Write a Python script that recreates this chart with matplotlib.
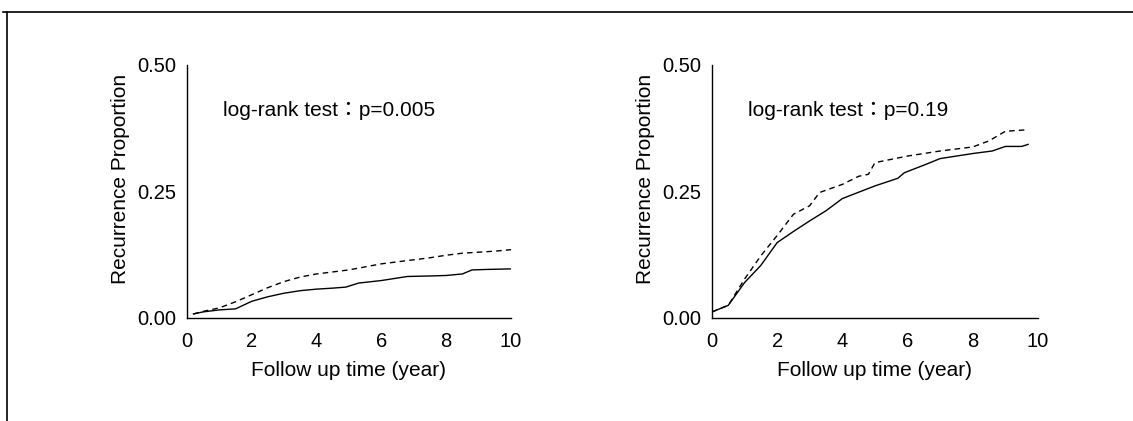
import matplotlib
matplotlib.use("Agg")
import matplotlib.pyplot as plt
from matplotlib.lines import Line2D

plt.rcParams['font.family'] = ['Liberation Sans', 'Noto Sans CJK KR', 'DejaVu Sans']

# Left panel data
left_dash_x = [0.2, 0.5, 1.0, 1.5, 2.0, 2.5, 3.0, 3.5, 4.0, 4.5, 5.0, 5.5, 6.0, 6.5, 7.0, 7.5, 8.0, 8.5, 9.0, 9.5, 10.0]
left_dash_y = [0.008, 0.013, 0.020, 0.032, 0.046, 0.060, 0.072, 0.081, 0.087, 0.091, 0.095, 0.101, 0.107, 0.111, 0.115, 0.119, 0.124, 0.128, 0.130, 0.132, 0.135]
left_solid_x = [0.2, 0.5, 1.0, 1.5, 1.8, 2.0, 2.5, 3.0, 3.5, 4.0, 4.5, 4.9, 5.3, 6.0, 6.8, 7.5, 8.0, 8.5, 8.8, 9.3, 10.0]
left_solid_y = [0.008, 0.012, 0.016, 0.018, 0.027, 0.033, 0.042, 0.049, 0.054, 0.057, 0.059, 0.061, 0.069, 0.074, 0.082, 0.083, 0.084, 0.087, 0.095, 0.096, 0.097]

# Right panel data
right_dash_x = [0.0, 0.5, 1.0, 1.5, 2.0, 2.5, 3.0, 3.3, 4.0, 4.5, 4.8, 5.0, 6.0, 7.0, 8.0, 8.5, 9.0, 9.7]
right_dash_y = [0.012, 0.025, 0.077, 0.123, 0.163, 0.205, 0.222, 0.248, 0.264, 0.280, 0.284, 0.307, 0.320, 0.330, 0.338, 0.350, 0.369, 0.372]
right_solid_x = [0.0, 0.5, 1.0, 1.5, 2.0, 2.5, 3.0, 3.5, 4.0, 5.0, 5.7, 5.9, 6.5, 7.0, 8.0, 8.6, 9.0, 9.5, 9.7]
right_solid_y = [0.012, 0.025, 0.070, 0.104, 0.149, 0.171, 0.192, 0.212, 0.236, 0.261, 0.276, 0.287, 0.302, 0.315, 0.325, 0.330, 0.339, 0.339, 0.343]

x_ticks = [0, 2, 4, 6, 8, 10]
y_ticks = [0.00, 0.25, 0.50]
y_tick_labels = ["0.00", "0.25", "0.50"]
panel_texts = ["log-rank test\uff1ap=0.005", "log-rank test\uff1ap=0.19"]
xlabel = "Follow up time (year)"
ylabel = "Recurrence Proportion"

fig = plt.figure(figsize=(11.33, 4.21), dpi=100)

# scanned frame lines
fig.add_artist(Line2D([0.003, 1.0], [0.9715, 0.9715], transform=fig.transFigure, color='black', lw=1.2))
fig.add_artist(Line2D([0.006, 0.006], [0.0, 0.9715], transform=fig.transFigure, color='black', lw=1.2))

axL = fig.add_axes([0.165, 0.2447, 0.286, 0.601])
axR = fig.add_axes([0.6284, 0.2447, 0.2877, 0.601])

panels = [
    (axL, left_dash_x, left_dash_y, left_solid_x, left_solid_y, panel_texts[0]),
    (axR, right_dash_x, right_dash_y, right_solid_x, right_solid_y, panel_texts[1]),
]
for ax, dx, dy, sx, sy, txt in panels:
    ax.plot(dx, dy, color='black', lw=1.0, dashes=(4, 3))
    ax.plot(sx, sy, color='black', lw=1.0)
    ax.set_xlim(0, 10)
    ax.set_ylim(0, 0.5)
    ax.set_xticks(x_ticks)
    ax.set_yticks(y_ticks)
    ax.set_yticklabels(y_tick_labels)
    ax.tick_params(axis='x', length=0, labelsize=14.5, pad=10)
    ax.tick_params(axis='y', length=0, labelsize=14.5, pad=8)
    for s in ['top', 'right']:
        ax.spines[s].set_visible(False)
    for s in ['left', 'bottom']:
        ax.spines[s].set_linewidth(1.0)
    ax.set_xlabel(xlabel, fontsize=15, labelpad=7)
    ax.set_ylabel(ylabel, fontsize=15, labelpad=5)
    ax.yaxis.label.set_y(0.55)
    ax.text(1.1, 0.41, txt, fontsize=15, va='center', ha='left')

fig.savefig("out.png", dpi=100)
